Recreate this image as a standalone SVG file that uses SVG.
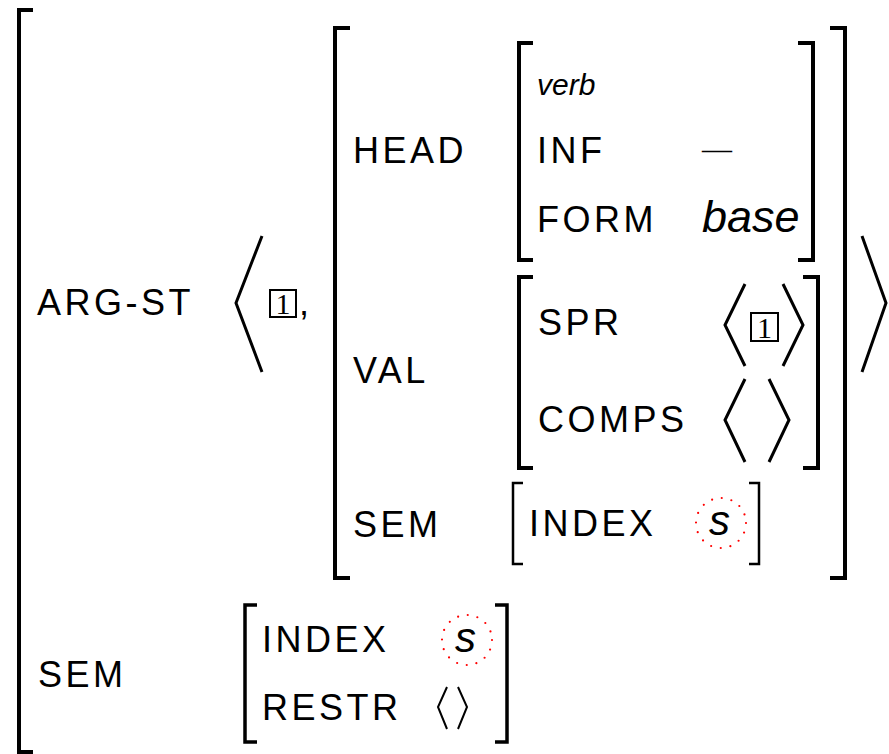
<svg xmlns="http://www.w3.org/2000/svg" width="889" height="754" viewBox="0 0 889 754">
<style>
.lbl{font-family:"Liberation Sans",Arial,sans-serif;font-size:36px;letter-spacing:3.5px;fill:#000}
.it{font-family:"Liberation Sans",Arial,sans-serif;font-style:italic;fill:#000}
.num{font-family:"Liberation Serif","Times New Roman",serif;font-size:30px;fill:#000}
.br{fill:none;stroke:#000;stroke-width:4}
.br2{fill:none;stroke:#000;stroke-width:2.5}
.ang{fill:none;stroke:#000;stroke-width:3}
.ang2{fill:none;stroke:#000;stroke-width:2}
.box{fill:none;stroke:#000;stroke-width:2}
.tag{fill:none;stroke:#ff0000;stroke-width:2.2;stroke-linecap:round;stroke-dasharray:0 9.82}
</style>
<rect width="889" height="754" fill="#fff"/>
<g id="outer">
  <path class="br" d="M33,10 H19 V752 H33"/>
  <text class="lbl" x="37" y="315">ARG-ST</text>
  <text class="lbl" x="38" y="687">SEM</text>
</g>
<g id="argst-list">
  <path class="ang" d="M262,236 L236,303 L262,372"/>
  <rect class="box" x="270" y="290" width="26" height="27"/>
  <text class="num" x="283" y="314" text-anchor="middle">1</text>
  <text class="lbl" x="299" y="315">,</text>
  <path class="ang" d="M862,236 L886,303 L862,372"/>
</g>
<g id="synsem">
  <path class="br" d="M350,28 H335 V578 H350"/>
  <path class="br" d="M830,28 H845 V578 H830"/>
  <text class="lbl" x="353" y="163">HEAD</text>
  <text class="lbl" x="353" y="383">VAL</text>
  <text class="lbl" x="353" y="537">SEM</text>
</g>
<g id="head">
  <path class="br" d="M533,43 H519 V260 H533"/>
  <path class="br" d="M798,43 H813 V260 H798"/>
  <text class="it" x="537" y="95" font-size="30">verb</text>
  <text class="lbl" x="537" y="163">INF</text>
  <text class="num" x="702" y="159" font-size="33" letter-spacing="0">—</text>
  <text class="lbl" x="537" y="232">FORM</text>
  <text class="it" x="702" y="232" font-size="45">base</text>
</g>
<g id="val">
  <path class="br" d="M533,277 H519 V468 H533"/>
  <path class="br" d="M803,277 H818 V468 H803"/>
  <text class="lbl" x="538" y="335">SPR</text>
  <path class="ang" d="M745,284 L725,325 L745,366"/>
  <rect class="box" x="751" y="313" width="27" height="28"/>
  <text class="num" x="764.5" y="338" text-anchor="middle">1</text>
  <path class="ang" d="M783,284 L803,325 L783,366"/>
  <text class="lbl" x="538" y="432">COMPS</text>
  <path class="ang" d="M745,379 L725,420 L745,462"/>
  <path class="ang" d="M769,379 L789,420 L769,462"/>
</g>
<g id="inner-sem">
  <path class="br2" d="M523,483 H513 V564 H523"/>
  <path class="br2" d="M749,483 H759 V564 H749"/>
  <text class="lbl" x="529" y="536">INDEX</text>
  <circle class="tag" cx="721" cy="523" r="25"/>
  <text class="it" x="709" y="535" font-size="42">s</text>
</g>
<g id="outer-sem">
  <path class="br" d="M257,605 H245 V742 H257" style="stroke-width:3.5"/>
  <path class="br" d="M495,605 H507 V742 H495" style="stroke-width:3.5"/>
  <text class="lbl" x="262" y="652">INDEX</text>
  <circle class="tag" cx="467" cy="640" r="25"/>
  <text class="it" x="455" y="652" font-size="42">s</text>
  <text class="lbl" x="262" y="720">RESTR</text>
  <path class="ang2" d="M447,687 L438,707 L447,729"/>
  <path class="ang2" d="M458,687 L467,707 L458,729"/>
</g>
<g id="connectors"></g>
</svg>
